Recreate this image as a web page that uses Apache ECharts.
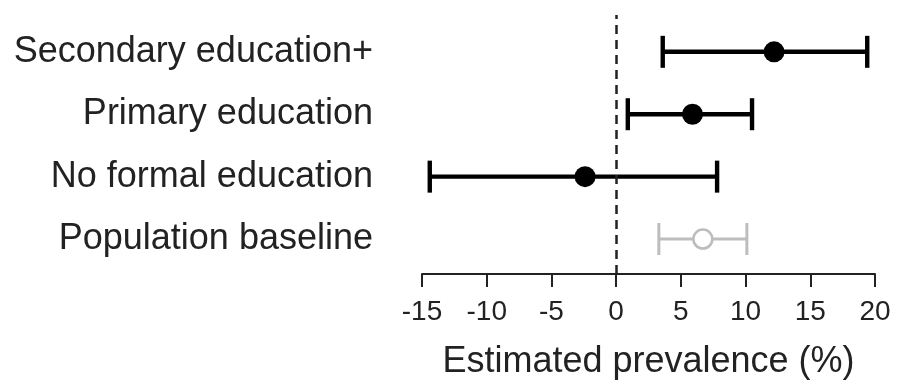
<!DOCTYPE html>
<html>
<head>
<meta charset="utf-8">
<script src="https://cdn.jsdelivr.net/npm/echarts@6/dist/echarts.min.js"></script>
<style>html,body{margin:0;padding:0;background:#fff}#c{width:897px;height:389px}</style>
</head>
<body>
<div id="c"></div>
<script>
// Data
var categories = ['Population baseline', 'No formal education', 'Primary education', 'Secondary education+'];
var estimate = [6.7, -2.4, 5.9, 12.2];
var lower = [3.3, -14.4, 0.9, 3.6];
var upper = [10.1, 7.8, 10.5, 19.4];
var xTicks = [-15, -10, -5, 0, 5, 10, 15, 20];

var FONT = '"Liberation Sans", Arial, sans-serif';
var BLACK = '#000000';
var GREY = '#bdbdbd';

var rows = categories.map(function (c, i) { return i + 1; });

var barData = rows.map(function (r, i) { return [lower[i], upper[i], r, i === 0 ? 1 : 0]; });
var solidPts = [], openPts = [];
rows.forEach(function (r, i) {
  if (i === 0) openPts.push([estimate[i], r]); else solidPts.push([estimate[i], r]);
});

var chart = echarts.init(document.getElementById('c'), null, { renderer: 'canvas' });
chart.setOption({
  animation: false,
  backgroundColor: '#ffffff',
  grid: { left: 422, right: 22, top: 15, bottom: 115, containLabel: false },
  xAxis: {
    type: 'value',
    min: -15, max: 20, interval: 5,
    splitLine: { show: false },
    axisLine: { show: true, lineStyle: { color: '#222', width: 2 } },
    axisTick: { show: true, length: 13, lineStyle: { color: '#222', width: 2 } },
    axisLabel: { fontFamily: FONT, fontSize: 28, color: '#222', margin: 24,
      customValues: xTicks },
    name: 'Estimated prevalence (%)',
    nameLocation: 'middle',
    nameGap: 70,
    nameTextStyle: { fontFamily: FONT, fontSize: 36, color: '#222' }
  },
  yAxis: {
    type: 'value',
    min: 0.44, max: 4.59,
    splitLine: { show: false },
    axisLine: { show: false },
    axisTick: { show: false },
    axisLabel: {
      fontFamily: FONT, fontSize: 36, color: '#222', margin: 49,
      customValues: rows,
      formatter: function (v) { return categories[Math.round(v) - 1] || ''; }
    }
  },
  series: [
    {
      type: 'custom',
      data: barData,
      encode: { x: [0, 1], y: 2 },
      renderItem: function (params, api) {
        var lo = api.coord([api.value(0), api.value(2)]);
        var hi = api.coord([api.value(1), api.value(2)]);
        var grey = api.value(3) === 1;
        var color = grey ? GREY : BLACK;
        var w = grey ? 3 : 4.4;
        var h = 16;
        return {
          type: 'group',
          children: [
            { type: 'line', shape: { x1: lo[0], y1: lo[1], x2: hi[0], y2: hi[1] }, style: { stroke: color, lineWidth: w } },
            { type: 'line', shape: { x1: lo[0], y1: lo[1] - h, x2: lo[0], y2: lo[1] + h }, style: { stroke: color, lineWidth: w } },
            { type: 'line', shape: { x1: hi[0], y1: hi[1] - h, x2: hi[0], y2: hi[1] + h }, style: { stroke: color, lineWidth: w } }
          ]
        };
      },
      markLine: {
        silent: true,
        symbol: 'none',
        label: { show: false },
        lineStyle: { color: '#222', width: 2.5, type: [9, 6] },
        data: [{ xAxis: 0 }]
      },
      z: 2
    },
    {
      type: 'scatter',
      data: solidPts,
      symbol: 'circle',
      symbolSize: 21,
      itemStyle: { color: BLACK, opacity: 1 },
      z: 3
    },
    {
      type: 'scatter',
      data: openPts,
      symbol: 'circle',
      symbolSize: 19,
      itemStyle: { color: '#ffffff', borderColor: GREY, borderWidth: 2.6, opacity: 1 },
      z: 3
    }
  ]
});
</script>
</body>
</html>
